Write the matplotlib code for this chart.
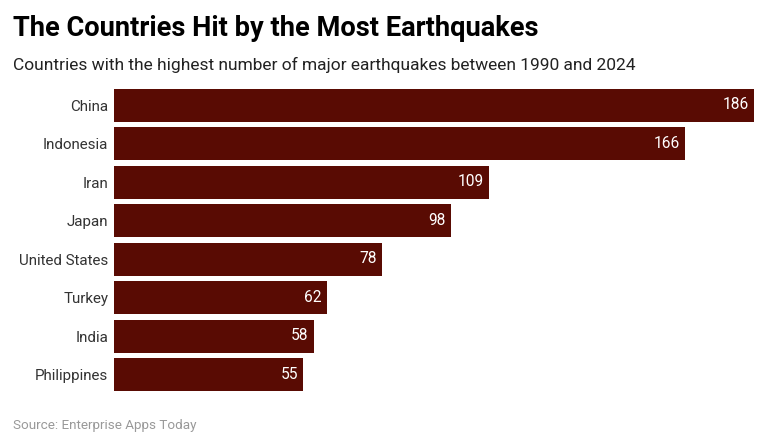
import matplotlib
matplotlib.use("Agg")
import matplotlib.pyplot as plt

countries = ["China", "Indonesia", "Iran", "Japan", "United States", "Turkey", "India", "Philippines"]
quakes = [186, 166, 109, 98, 78, 62, 58, 55]

plt.rcParams['font.family'] = ['Roboto', 'DejaVu Sans']

W, H = 768, 445
fig = plt.figure(figsize=(W / 100, H / 100), dpi=100)

# axes box in pixels: left 114, right 754, top 86, bottom 394
ax = fig.add_axes([114 / W, 1 - 394 / H, (754 - 114) / W, (394 - 86) / H])

y = list(range(len(countries)))
ax.barh(y, quakes, height=0.87, color="#590b03")
ax.set_xlim(0, 186)
ax.set_ylim(len(countries) - 0.5, -0.5)
ax.set_yticks(y)
ax.set_yticklabels(countries, fontsize=10.9, color="#333333")
ax.tick_params(axis='y', length=0, pad=4)
ax.xaxis.set_visible(False)
for side in ax.spines.values():
    side.set_visible(False)

for i, v in enumerate(quakes):
    ax.annotate(str(v), (v, i), xytext=(-3.8, 0.4), textcoords='offset points',
                ha='right', va='center', color='white', fontsize=11.2)

fig.text(13 / W, 1 - 29 / H, "The Countries Hit by the Most Earthquakes",
         fontsize=19.6, fontweight='bold', color='black', va='center')
fig.text(13 / W, 1 - 65 / H, "Countries with the highest number of major earthquakes between 1990 and 2024",
         fontsize=12.5, color='#222222', va='center')
fig.text(13 / W, 1 - 425 / H, "Source: Enterprise Apps Today",
         fontsize=9.7, color='#999999', va='center')

fig.savefig("out.png", dpi=100)
